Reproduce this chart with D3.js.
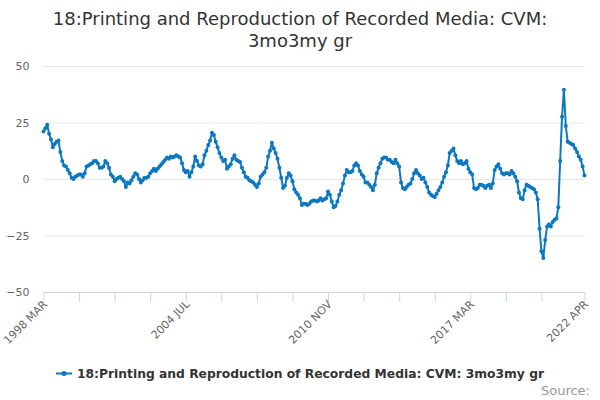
<!DOCTYPE html>
<html>
<head>
<meta charset="utf-8">
<script src="https://cdn.jsdelivr.net/npm/d3@7/dist/d3.min.js"></script>
<style>
  html, body { margin: 0; padding: 0; background: #fff; }
  svg { display: block; font-family: "DejaVu Sans", Verdana, sans-serif; }
</style>
</head>
<body>
<svg id="chart" width="600" height="400"></svg>
<script>
// ---- data ----
const titleLines = ["18:Printing and Reproduction of Recorded Media: CVM:", "3mo3my gr"];
const seriesName = "18:Printing and Reproduction of Recorded Media: CVM: 3mo3my gr";
const monthNames = ["JAN","FEB","MAR","APR","MAY","JUN","JUL","AUG","SEP","OCT","NOV","DEC"];
const startYear = 1998, startMonth = 2; // 1998 MAR
const values = [
  21, 22.5, 24, 20, 17.5, 14, 15.5, 16.5, 17, 12,
  8, 6, 5.5, 4, 2.5, 0.5, 0, 1, 1.5, 2,
  2, 1, 2.5, 5.5, 6, 6.5, 7, 8, 8, 7,
  5, 5, 5.5, 8, 7, 5, 2, 1, -1, 0,
  0.5, 1, 0, -1, -3.5, -1.5, -2, -0.5, 1, 2.5,
  2, 0, -1.5, -0.5, 0.5, 0.5, 1, 2.5, 3.5, 4.5,
  3.5, 4.5, 5.5, 6.5, 7.5, 8.5, 9.5, 9, 10, 9.5,
  10, 10.5, 10, 9.5, 7, 4, 3, 3.5, 1, 3,
  5.5, 10, 8, 6, 5.5, 6.5, 10.5, 12.5, 15, 17,
  20.5, 19.5, 16.5, 14, 11.5, 9.5, 8, 8.5, 4.5, 5.5,
  6.5, 9, 10.5, 8.5, 8, 7.5, 5, 3, 1, 0.5,
  -0.5, -1, -1.5, -2.5, -3.5, -2, 1, 2, 3, 5,
  10, 12.5, 16, 13.5, 11.5, 9, 5, 0.5, -4, -3,
  0.5, 2.5, 1.5, -1, -4.5, -6, -7, -8.5, -11.5, -11,
  -11, -11.5, -11, -10, -9.5, -9.5, -10, -9.5, -8.5, -9.5,
  -9, -8.5, -5.5, -7, -10, -12.5, -12, -10, -7, -5,
  -2, 1.5, 4, 3, 3, 3.5, 6, 7, 6, 3.5,
  2, 1, -1.5, -1.5, -2.5, -3.5, -5, -2.5, 2.5, 5,
  7, 9, 9.5, 9.5, 8.5, 8.5, 7.5, 7, 8.5, 7,
  5.5, -1.5, -4, -4.5, -3.5, -2.5, -2, 0, 2.5, 4,
  2.5, 1.5, 0, 0.5, -1.5, -3.5, -6, -7, -7.5, -8,
  -6.5, -5, -3.5, -1.5, 1, 3, 6, 11.5, 12.5, 13.5,
  10.5, 8, 7, 8, 6.5, 7, 8, 4.5, 3, 2,
  -4, -4.5, -4, -2.5, -2.5, -3, -4, -3, -2.5, -4,
  -2, 4, 5.5, 6.5, 4.5, 2.5, 2, 2.5, 2.5, 2,
  3.5, 2.5, 1, -1, -6, -8.5, -9, -5, -2.5, -3,
  -3.5, -4, -4.5, -6, -9, -22, -32, -35, -27, -21,
  -20, -21, -19, -18, -17.5, -12.5, 8, 27.5, 39.5, 23.5,
  16.5, 16, 15.5, 15, 13.5, 12, 10, 8.5, 5.5, 1.5
];
const categories = values.map((v, i) => {
  const m = startMonth + i;
  return (startYear + Math.floor(m / 12)) + " " + monthNames[m % 12];
});
const yTicks = [-50, -25, 0, 25, 50];
const xTickLabels = ["1998 MAR", "2004 JUL", "2010 NOV", "2017 MAR", "2022 APR"];
const xTickStep = 19;

// ---- layout ----
const svg = d3.select("#chart");
const plotLeft = 43.5, plotRight = 584.5, plotTop = 66, plotBottom = 292;
const color = "#0b78c1";

const x = d3.scalePoint().domain(categories).range([plotLeft, plotRight]);
const y = d3.scaleLinear().domain([-50, 50]).range([plotBottom, plotTop]);

// title
svg.append("text")
  .attr("x", 300).attr("text-anchor", "middle")
  .attr("font-size", 18).attr("fill", "#333")
  .selectAll("tspan").data(titleLines).join("tspan")
  .attr("x", 300).attr("y", (d, i) => 25 + i * 22).text(d => d);

// grid
svg.append("g")
  .attr("transform", `translate(${plotLeft},0)`)
  .call(d3.axisLeft(y).tickValues(yTicks.filter(t => t !== -50)).tickSize(-(plotRight - plotLeft)).tickFormat(""))
  .call(g => g.select(".domain").remove())
  .call(g => g.selectAll("line").attr("stroke", "#e6e6e6").attr("stroke-width", 1));

// y labels
svg.append("g")
  .attr("transform", `translate(${plotLeft},0)`)
  .call(d3.axisLeft(y).tickValues(yTicks).tickSize(0).tickPadding(14).tickFormat(d3.format("d")))
  .call(g => g.select(".domain").remove())
  .call(g => g.selectAll("text").attr("font-size", 11).attr("fill", "#666")
      .attr("font-family", "DejaVu Sans, sans-serif").attr("dy", "0.32em"));

// x axis
const tickCats = categories.filter((c, i) => i % xTickStep === 0 && i <= categories.length - 10);
tickCats.push(categories[categories.length - 1]);
const xAxis = svg.append("g")
  .attr("transform", `translate(0,${plotBottom})`)
  .call(d3.axisBottom(x).tickValues(tickCats).tickSize(10).tickSizeOuter(0)
    .tickFormat(d => xTickLabels.includes(d) ? d : ""));
xAxis.select(".domain").attr("stroke", "#ccd6eb").attr("d", `M${plotLeft},0.5H${plotRight + 0.5}`);
xAxis.selectAll("line").attr("stroke", "#ccd6eb");
xAxis.selectAll("text")
  .attr("font-size", 11).attr("fill", "#666").attr("font-family", "DejaVu Sans, sans-serif")
  .attr("text-anchor", "end").attr("dy", null).attr("y", 0)
  .attr("transform", "translate(4,13) rotate(-45)");

// line
const line = d3.line().x((d, i) => x(categories[i])).y(d => y(d));
svg.append("path").datum(values)
  .attr("fill", "none").attr("stroke", color).attr("stroke-width", 2)
  .attr("stroke-linejoin", "round").attr("d", line);
svg.append("g").selectAll("circle").data(values).join("circle")
  .attr("cx", (d, i) => x(categories[i])).attr("cy", d => y(d))
  .attr("r", 2).attr("fill", color);

// legend
const lg = svg.append("g");
const lt = lg.append("text").attr("font-size", 12.3).attr("font-weight", "bold")
  .attr("fill", "#333").attr("y", 378).text(seriesName);
const tw = lt.node().getComputedTextLength();
const total = 16 + 5 + tw;
const lx = 300 - total / 2;
lt.attr("x", lx + 21);
lg.append("line").attr("x1", lx).attr("x2", lx + 16).attr("y1", 373.5).attr("y2", 373.5)
  .attr("stroke", color).attr("stroke-width", 2);
lg.append("circle").attr("cx", lx + 8).attr("cy", 373.5).attr("r", 2.5).attr("fill", color);

// credits
svg.append("text").attr("x", 590).attr("y", 395).attr("text-anchor", "end")
  .attr("font-size", 13).attr("fill", "#999").text("Source:");
</script>
</body>
</html>
